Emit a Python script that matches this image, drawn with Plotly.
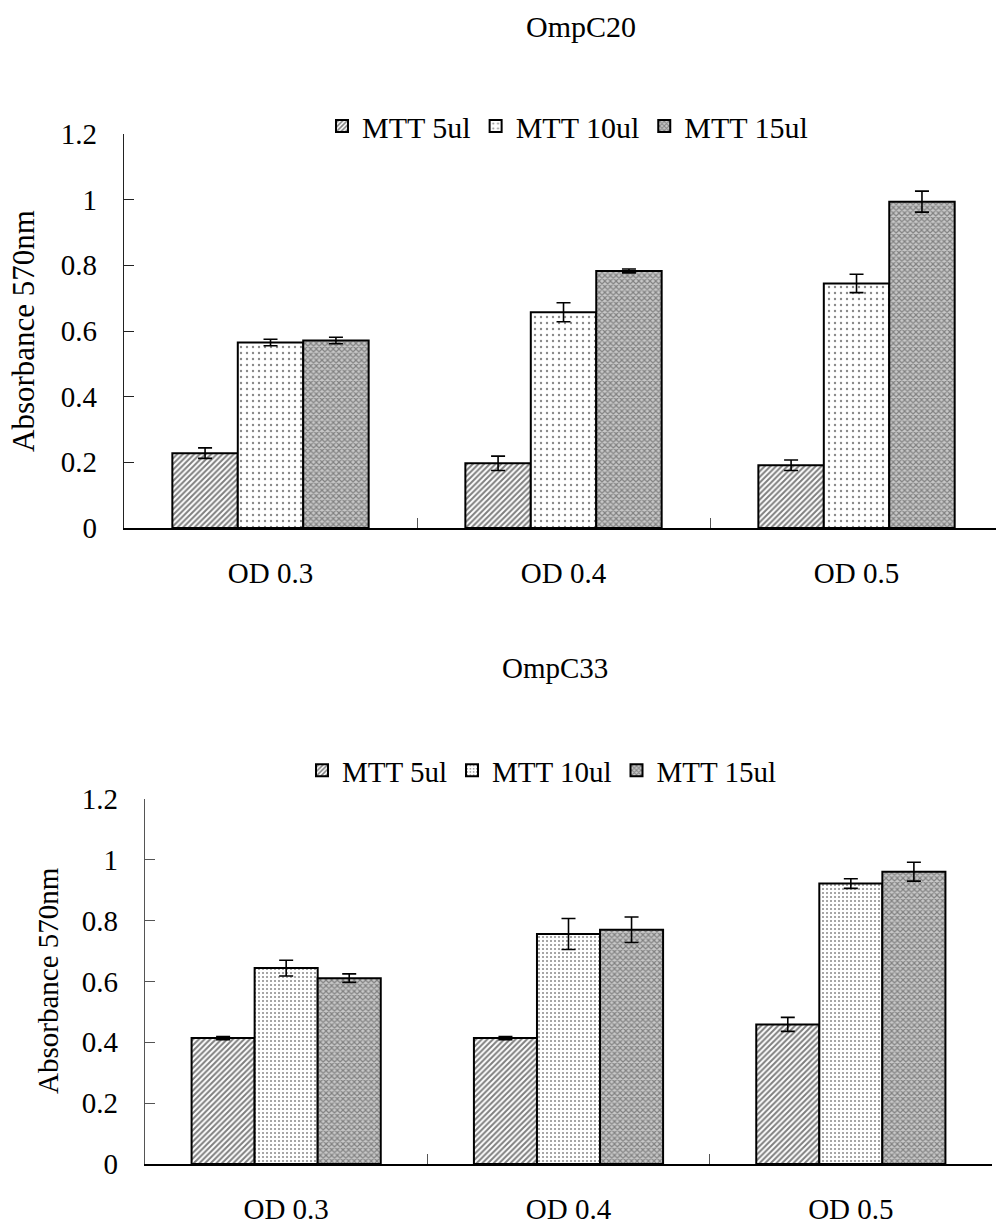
import plotly.graph_objects as go

categories = ["OD 0.3", "OD 0.4", "OD 0.5"]
series_names = ["MTT 5ul", "MTT 10ul", "MTT 15ul"]

ompc20_5ul = [0.228, 0.197, 0.191]
ompc20_5ul_err = [0.016, 0.022, 0.016]
ompc20_10ul = [0.565, 0.657, 0.745]
ompc20_10ul_err = [0.010, 0.029, 0.028]
ompc20_15ul = [0.571, 0.783, 0.994]
ompc20_15ul_err = [0.010, 0.006, 0.032]

ompc33_5ul = [0.414, 0.414, 0.459]
ompc33_5ul_err = [0.005, 0.005, 0.023]
ompc33_10ul = [0.644, 0.756, 0.922]
ompc33_10ul_err = [0.026, 0.051, 0.016]
ompc33_15ul = [0.611, 0.770, 0.961]
ompc33_15ul_err = [0.014, 0.042, 0.031]

y_ticks = [0, 0.2, 0.4, 0.6, 0.8, 1, 1.2]
y_ticklabels = ["0", "0.2", "0.4", "0.6", "0.8", "1", "1.2"]

FONT = "Liberation Serif"
W, H = 996, 1226

def px_x(x):
    return x / W

def px_y(y):
    return 1 - y / H

def pattern(i, top):
    if i == 0:
        return dict(shape="/", fgcolor="black", bgcolor="white", size=4, solidity=0.5)
    if i == 1:
        if top:
            return dict(shape=".", fgcolor="#111", bgcolor="white", size=6, solidity=0.12)
        return dict(shape=".", fgcolor="#111", bgcolor="white", size=4, solidity=0.2)
    return dict(shape="x", fgcolor="#3a3a3a", bgcolor="#c8c8c8", size=4, solidity=0.5)

fig = go.Figure()

top_data = [(ompc20_5ul, ompc20_5ul_err), (ompc20_10ul, ompc20_10ul_err), (ompc20_15ul, ompc20_15ul_err)]
bot_data = [(ompc33_5ul, ompc33_5ul_err), (ompc33_10ul, ompc33_10ul_err), (ompc33_15ul, ompc33_15ul_err)]

for i, (vals, errs) in enumerate(top_data):
    fig.add_trace(go.Bar(
        x=categories, y=vals, name=series_names[i],
        xaxis="x", yaxis="y", legend="legend",
        marker=dict(color="white", pattern=pattern(i, True), line=dict(color="black", width=2)),
        error_y=dict(type="data", array=errs, color="black", thickness=1.6, width=7),
    ))
for i, (vals, errs) in enumerate(bot_data):
    fig.add_trace(go.Bar(
        x=categories, y=vals, name=series_names[i],
        xaxis="x2", yaxis="y2", legend="legend2",
        marker=dict(color="white", pattern=pattern(i, False), line=dict(color="black", width=2)),
        error_y=dict(type="data", array=errs, color="black", thickness=1.6, width=7),
    ))

tickfont = dict(family=FONT, size=29, color="black")

def xaxis(domain, rng, anchor):
    return dict(domain=domain, range=rng, anchor=anchor, type="category", automargin=False,
                showline=True, linecolor="black", linewidth=1.5,
                ticks="inside", tickson="boundaries", ticklen=10, tickcolor="#555", tickwidth=1,
                tickfont=tickfont, ticklabelstandoff=18, showgrid=False, zeroline=False, fixedrange=True)

def yaxis(domain, anchor, lc):
    return dict(domain=domain, range=[0, 1.2], anchor=anchor, automargin=False,
                tickvals=y_ticks, ticktext=y_ticklabels,
                showline=True, linecolor=lc, linewidth=1.2,
                ticks="inside", ticklen=10, tickcolor=lc, tickwidth=1,
                tickfont=tickfont, ticklabelstandoff=20, showgrid=False, zeroline=False, fixedrange=True)

fig.update_layout(
    width=W, height=H, autosize=False,
    margin=dict(l=0, r=0, t=0, b=0, autoexpand=False),
    paper_bgcolor="white", plot_bgcolor="white",
    barmode="group", bargap=0.33, bargroupgap=0,
    font=dict(family=FONT, size=29, color="black"),
    xaxis=xaxis([px_x(124), 1.0], [-0.5, 2.476], "y"),
    yaxis=yaxis([px_y(528), px_y(134)], "x", "#222"),
    xaxis2=xaxis([px_x(145), px_x(992)], [-0.5, 2.5], "y2"),
    yaxis2=yaxis([px_y(1164), px_y(799)], "x2", "#555"),
    legend=dict(orientation="h", x=px_x(322), y=px_y(100), xanchor="left", yanchor="top",
                font=dict(family=FONT, size=30, color="black"), bgcolor="rgba(0,0,0,0)",
                itemclick=False, itemdoubleclick=False, tracegroupgap=0),
    legend2=dict(orientation="h", x=px_x(302), y=px_y(745), xanchor="left", yanchor="top",
                 font=dict(family=FONT, size=29, color="black"), bgcolor="rgba(0,0,0,0)",
                 itemclick=False, itemdoubleclick=False, tracegroupgap=0),
    annotations=[
        dict(text="OmpC20", x=px_x(581), y=px_y(27), xref="paper", yref="paper",
             xanchor="center", yanchor="middle", showarrow=False,
             font=dict(family=FONT, size=30, color="black")),
        dict(text="OmpC33", x=px_x(555), y=px_y(668), xref="paper", yref="paper",
             xanchor="center", yanchor="middle", showarrow=False,
             font=dict(family=FONT, size=29, color="black")),
        dict(text="Absorbance 570nm", x=px_x(23), y=px_y(331), xref="paper", yref="paper",
             xanchor="center", yanchor="middle", textangle=-90, showarrow=False,
             font=dict(family=FONT, size=31, color="black")),
        dict(text="Absorbance 570nm", x=px_x(48), y=px_y(981), xref="paper", yref="paper",
             xanchor="center", yanchor="middle", textangle=-90, showarrow=False,
             font=dict(family=FONT, size=29, color="black")),
    ],
    showlegend=True,
)

fig.write_html("out.html")
